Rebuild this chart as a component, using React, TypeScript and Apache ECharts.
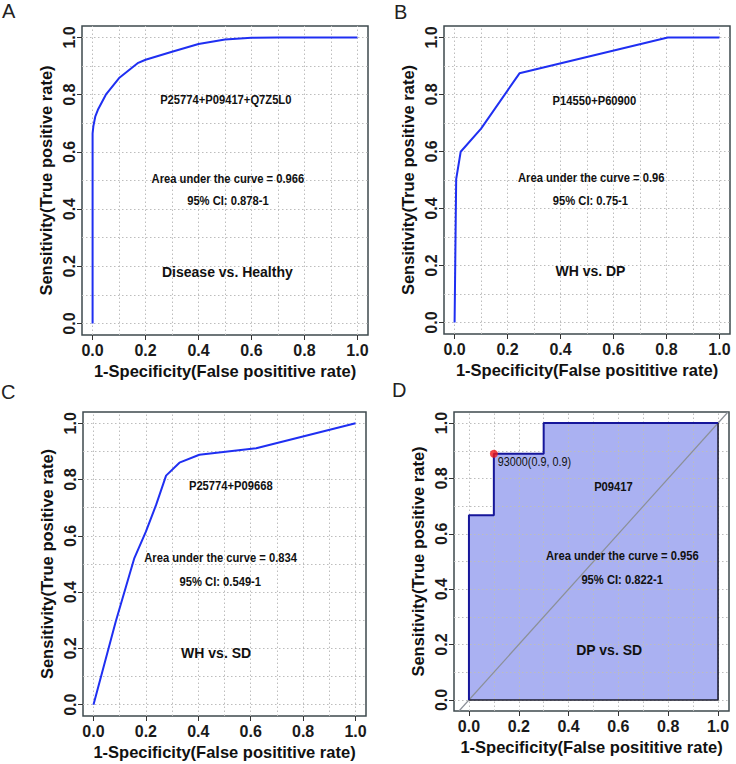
import React, { useEffect, useRef } from "react";
import * as echarts from "echarts";

// ---- data ----
const tickValues = [0, 0.2, 0.4, 0.6, 0.8, 1.0];
const gridValues = [0, 0.1, 0.2, 0.3, 0.4, 0.5, 0.6, 0.7, 0.8, 0.9, 1.0];

const fprA = [0, 0, 0.003, 0.01, 0.02, 0.05, 0.1, 0.17, 0.2, 0.3, 0.4, 0.5, 0.6, 0.7, 1.0];
const tprA = [0, 0.665, 0.69, 0.723, 0.747, 0.8, 0.858, 0.91, 0.922, 0.95, 0.977, 0.993, 0.999, 1.0, 1.0];

const fprB = [0, 0.006, 0.023, 0.1, 0.245, 0.805, 1.0];
const tprB = [0, 0.503, 0.599, 0.68, 0.874, 1.0, 1.0];

const fprC = [0, 0.085, 0.156, 0.2, 0.239, 0.277, 0.328, 0.404, 0.621, 1.0];
const tprC = [0, 0.296, 0.521, 0.615, 0.71, 0.814, 0.86, 0.888, 0.911, 1.0];

const fprD = [0, 0, 0.1, 0.1, 0.3, 0.3, 1.0];
const tprD = [0, 0.667, 0.667, 0.889, 0.889, 1.0, 1.0];
const cutoffFprD = 0.1;
const cutoffTprD = 0.889;
const cutoffLabelD = "93000(0.9, 0.9)";

const letters = ["A", "B", "C", "D"];
const markerNames = ["P25774+P09417+Q7Z5L0", "P14550+P60900", "P25774+P09668", "P09417"];
const aucTexts = [
  "Area under the curve = 0.966",
  "Area under the curve = 0.96",
  "Area under the curve = 0.834",
  "Area under the curve = 0.956",
];
const ciTexts = ["95% CI: 0.878-1", "95% CI: 0.75-1", "95% CI: 0.549-1", "95% CI: 0.822-1"];
const groupTexts = ["Disease vs. Healthy", "WH vs. DP", "WH vs. SD", "DP vs. SD"];
const xTitle = "1-Specificity(False posititive rate)";
const yTitle = "Sensitivity(True positive rate)";

// ---- layout / style ----
const FONT = "'Liberation Sans', Arial, Helvetica, sans-serif";
const NARROW_SCALE = 0.83;

const layouts = [
  { grid: { left: 82, top: 26, width: 286, height: 309 }, x: [-0.04, 1.04], y: [-0.04, 1.04], letter: [2, 1],
    pos: { marker: [0.503, 0.782], auc: [0.511, 0.508], ci: [0.511, 0.428], group: [0.509, 0.181] } },
  { grid: { left: 444, top: 26, width: 286, height: 308 }, x: [-0.04, 1.04], y: [-0.04, 1.04], letter: [394, 2],
    pos: { marker: [0.528, 0.78], auc: [0.516, 0.509], ci: [0.513, 0.429], group: [0.513, 0.181] } },
  { grid: { left: 83, top: 412, width: 283, height: 304 }, x: [-0.04, 1.04], y: [-0.04, 1.04], letter: [1, 382],
    pos: { marker: [0.524, 0.778], auc: [0.485, 0.521], ci: [0.484, 0.438], group: [0.468, 0.183] } },
  { grid: { left: 454, top: 412, width: 275, height: 299 }, x: [-0.06, 1.044], y: [-0.04, 1.04], letter: [392, 380],
    pos: { marker: [0.58, 0.77], auc: [0.616, 0.52], ci: [0.615, 0.433], group: [0.563, 0.18] } },
];

const curves = [
  [fprA, tprA],
  [fprB, tprB],
  [fprC, tprC],
];

const zip = (a: number[], b: number[]) => a.map((v, i) => [v, b[i]]);

function buildOption() {
  const grids: any[] = [];
  const xAxes: any[] = [];
  const yAxes: any[] = [];
  const series: any[] = [];

  layouts.forEach((L, i) => {
    grids.push({
      ...L.grid,
      show: true,
      borderColor: "#3e4a4e",
      borderWidth: 1.5,
      backgroundColor: "transparent",
      containLabel: false,
    });
    const common = {
      gridIndex: i,
      type: "value",
      axisLine: { show: false, onZero: false },
      axisTick: { show: true, customValues: tickValues, length: 5, lineStyle: { color: "#333", width: 1 } },
      splitLine: { show: false },
    };
    xAxes.push({
      ...common,
      min: L.x[0],
      max: L.x[1],
      axisLabel: {
        customValues: tickValues,
        formatter: (v: number) => v.toFixed(1),
        fontFamily: FONT,
        fontWeight: "bold",
        fontSize: 16,
        color: "#1a1a1a",
        margin: 7,
      },
      name: xTitle,
      nameLocation: "middle",
      nameGap: 27,
      nameTextStyle: { fontFamily: FONT, fontWeight: "bold", fontSize: 16.5, color: "#111" },
    });
    yAxes.push({
      ...common,
      min: L.y[0],
      max: L.y[1],
      axisLabel: {
        customValues: tickValues,
        formatter: (v: number) => v.toFixed(1),
        rotate: 90,
        fontFamily: FONT,
        fontWeight: "bold",
        fontSize: 16,
        color: "#1a1a1a",
        margin: 5,
      },
      name: yTitle,
      nameLocation: "middle",
      nameGap: 28,
      nameTextStyle: { fontFamily: FONT, fontWeight: "bold", fontSize: 16.5, color: "#111" },
    });

    const gridLines = {
      silent: true,
      z: 1,
      symbol: "none",
      label: { show: false },
      lineStyle: { type: [1.5, 2.5], color: "#bdbdbd", width: 1 },
      data: [
        ...gridValues.map((v) => ({ xAxis: v })),
        ...gridValues.map((v) => ({ yAxis: v })),
      ],
    };

    if (i < 3) {
      series.push({
        type: "line",
        xAxisIndex: i,
        yAxisIndex: i,
        data: zip(curves[i][0], curves[i][1]),
        showSymbol: false,
        symbol: "none",
        lineStyle: { color: "#1f2ff2", width: 2 },
        z: 3,
        markLine: gridLines,
      });
    } else {
      series.push({
        type: "line",
        xAxisIndex: i,
        yAxisIndex: i,
        data: zip(fprD, tprD),
        showSymbol: false,
        symbol: "none",
        lineStyle: { width: 0, opacity: 0 },
        areaStyle: { color: "#aab1f2", opacity: 1 },
        z: 0,
        markLine: gridLines,
      });
      series.push({
        type: "line",
        xAxisIndex: i,
        yAxisIndex: i,
        data: [
          [L.y[0], L.y[0]],
          [L.y[1], L.y[1]],
        ],
        showSymbol: false,
        symbol: "none",
        lineStyle: { color: "#8c9098", width: 1.2 },
        z: 2,
      });
      series.push({
        type: "line",
        xAxisIndex: i,
        yAxisIndex: i,
        data: [
          [fprD[fprD.length - 1], tprD[tprD.length - 1]],
          [fprD[fprD.length - 1], 0],
          [0, 0],
        ],
        showSymbol: false,
        symbol: "none",
        lineStyle: { color: "#1c1c2e", width: 1.6 },
        z: 3,
      });
      series.push({
        type: "line",
        xAxisIndex: i,
        yAxisIndex: i,
        data: zip(fprD, tprD),
        showSymbol: false,
        symbol: "none",
        lineStyle: { color: "#16169a", width: 2 },
        z: 4,
      });
      series.push({
        type: "scatter",
        xAxisIndex: i,
        yAxisIndex: i,
        data: [[cutoffFprD, cutoffTprD]],
        symbolSize: 8,
        itemStyle: { color: "#f01818" },
        z: 5,
      });
    }
  });

  return {
    animation: false,
    backgroundColor: "#ffffff",
    grid: grids,
    xAxis: xAxes,
    yAxis: yAxes,
    series,
  };
}

function buildGraphics(chart: echarts.ECharts) {
  const g: any[] = [];
  const txt = (x: number, y: number, text: string, size: number, bold: boolean, scaleX: number, align: string) => ({
    type: "text",
    x,
    y,
    scaleX,
    z: 10,
    style: {
      text,
      fontFamily: FONT,
      fontSize: size,
      fontWeight: bold ? "bold" : "normal",
      fill: "#111",
      align,
      verticalAlign: "middle",
    },
  });
  layouts.forEach((L, i) => {
    g.push({
      type: "text",
      x: L.letter[0],
      y: L.letter[1],
      style: { text: letters[i], fontFamily: FONT, fontSize: 20, fill: "#222", verticalAlign: "top" },
    });
    const px = (p: number[]) => chart.convertToPixel({ gridIndex: i } as any, p) as number[];
    const m = px(L.pos.marker);
    const a = px(L.pos.auc);
    const c = px(L.pos.ci);
    const gr = px(L.pos.group);
    g.push(txt(m[0], m[1], markerNames[i], 13.5, true, NARROW_SCALE, "center"));
    g.push(txt(a[0], a[1], aucTexts[i], 13.5, true, NARROW_SCALE, "center"));
    g.push(txt(c[0], c[1], ciTexts[i], 13.5, true, NARROW_SCALE, "center"));
    g.push(txt(gr[0], gr[1], groupTexts[i], 14, true, 1, "center"));
    if (i === 3) {
      const p = px([cutoffFprD, cutoffTprD]);
      g.push(txt(p[0] + 4, p[1] + 8, cutoffLabelD, 13, false, NARROW_SCALE, "left"));
    }
  });
  return g;
}

export default function App() {
  const ref = useRef<HTMLDivElement>(null);
  useEffect(() => {
    if (!ref.current) return;
    const chart = echarts.init(ref.current, undefined, { renderer: "svg" });
    chart.setOption(buildOption() as any);
    chart.setOption({ graphic: buildGraphics(chart) } as any);
    return () => chart.dispose();
  }, []);
  return (
    <div
      ref={ref}
      style={{ position: "absolute", left: 0, top: 0, width: 736, height: 764 }}
    />
  );
}
